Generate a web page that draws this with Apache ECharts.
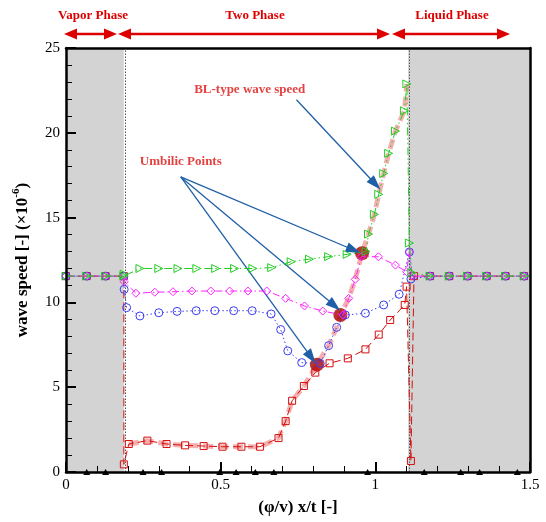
<!DOCTYPE html>
<html><head><meta charset="utf-8">
<script src="https://cdn.jsdelivr.net/npm/echarts@6/dist/echarts.min.js"></script>
<style>html,body{margin:0;padding:0;background:#fff}#c{width:546px;height:522px}</style>
</head><body><div id="c"></div>
<script>
// ---- data ----
const phaseBounds = [0.187, 1.106];
const redX = [0,0.067,0.128,0.187,0.187,0.203,0.263,0.325,0.385,0.445,0.506,0.567,0.627,0.687,0.71,0.731,0.769,0.806,0.852,0.911,0.968,1.011,1.048,1.095,1.101,1.115,1.125,1.177,1.239,1.298,1.36,1.421,1.481,1.5];
const redY = [11.55,11.55,11.55,11.55,0.45,1.65,1.85,1.65,1.57,1.53,1.49,1.49,1.49,2.0,3.0,4.2,5.07,5.86,6.41,6.7,7.23,8.1,8.96,9.85,10.93,0.65,11.55,11.55,11.55,11.55,11.55,11.55,11.55,11.55];
const blueX = [0,0.067,0.128,0.187,0.188,0.196,0.239,0.3,0.359,0.421,0.481,0.542,0.602,0.663,0.694,0.717,0.762,0.822,0.849,0.875,0.903,0.968,1.027,1.077,1.11,1.115,1.177,1.239,1.298,1.36,1.421,1.481,1.5];
const blueY = [11.55,11.55,11.55,11.55,10.77,9.69,9.2,9.39,9.47,9.51,9.51,9.51,9.51,9.32,8.4,7.14,6.45,6.4,7.45,8.53,9.26,9.36,9.85,10.48,12.97,11.38,11.55,11.55,11.55,11.55,11.55,11.55,11.55];
const magX = [0,0.067,0.128,0.187,0.188,0.226,0.287,0.346,0.407,0.468,0.529,0.588,0.649,0.71,0.771,0.83,0.895,0.914,0.935,0.955,1.01,1.065,1.101,1.11,1.12,1.177,1.239,1.298,1.36,1.421,1.481,1.5];
const magY = [11.55,11.55,11.55,11.55,11.22,10.54,10.6,10.63,10.67,10.67,10.67,10.67,10.67,10.24,9.79,9.49,9.26,10.24,11.36,12.7,12.69,12.2,11.81,12.97,11.55,11.55,11.55,11.55,11.55,11.55,11.55,11.55];
const greenX = [0,0.067,0.128,0.187,0.188,0.239,0.3,0.362,0.423,0.484,0.545,0.604,0.665,0.728,0.787,0.849,0.909,0.97,0.978,0.997,1.011,1.027,1.043,1.065,1.094,1.102,1.11,1.118,1.177,1.239,1.298,1.36,1.421,1.481,1.5];
const greenY = [11.55,11.55,11.55,11.55,11.66,12.0,12.0,12.0,12.0,12.0,12.0,12.0,12.05,12.4,12.55,12.7,12.83,13.0,14.03,15.19,16.37,17.6,18.79,20.1,21.3,22.88,13.5,11.75,11.55,11.55,11.55,11.55,11.55,11.55,11.55];
const blX = [0.203,0.263,0.325,0.385,0.445,0.506,0.567,0.627,0.687,0.71,0.731,0.769,0.811,0.849,0.875,0.887,0.914,0.935,0.957,0.978,0.997,1.011,1.027,1.043,1.065,1.094,1.102];
const blY = [1.65,1.85,1.65,1.57,1.53,1.49,1.49,1.49,2.0,3.0,4.2,5.07,6.33,7.45,8.53,9.25,10.24,11.36,12.9,14.03,15.19,16.37,17.6,18.79,20.1,21.3,22.88];
const umbX = [0.811,0.887,0.957];
const umbY = [6.33,9.25,12.9];
const zeroX = [0.067,0.128,0.249,0.309,0.497,0.55,0.612,0.672,0.975,1.158,1.276,1.337,1.459];
const zeroY = [0,0,0,0,0,0,0,0,0,0,0,0,0];
const xTicks = [0,0.5,1,1.5];
const yTicks = [0,5,10,15,20,25];
// annotations (data coordinates)
const blLabel = {text:'BL-type wave speed', at:[0.594,22.52]};
const blArrow = [[0.745,21.95],[1.0,16.98]];
const umbLabel = {text:'Umbilic Points', at:[0.371,18.3]};
const umbArrowFrom = [0.371,17.4];
const umbArrowTo = [[0.93,13.09],[0.868,9.81],[0.793,6.76]];

// ---- chart ----
const SERIF = '"Liberation Serif","Times New Roman",serif';
function zip(xs, ys){ return xs.map((x,i)=> (x===1.5 ? {value:[x,ys[i]], symbol:'none'} : [x,ys[i]])); }
const chart = echarts.init(document.getElementById('c'), null, {renderer:'canvas'});
const arrowColor = '#1f5fa6';
function lineSeries(name, xs, ys, color, dash, symbol, size, rot, z){
  return {
    name, type:'line', data: zip(xs,ys), z, clip:false, showAllSymbol:true,
    symbol, symbolSize:size, symbolRotate: rot||0,
    lineStyle:{color, width:1, type:dash},
    itemStyle:{color:'rgba(255,255,255,0)', borderColor:color, borderWidth:1},
    emphasis:{disabled:true}, animation:false
  };
}
const option = {
  animation:false,
  grid:{left:66, right:16, top:48, bottom:50},
  xAxis:[{
    type:'value', min:0, max:1.5, interval:0.5, position:'bottom', z:20,
    axisLine:{onZero:false, lineStyle:{color:'#000', width:2.5}},
    axisTick:{inside:true, length:10, lineStyle:{color:'#000', width:2}},
    minorTick:{show:true, splitNumber:5, length:6, lineStyle:{color:'#000', width:1}},
    splitLine:{show:false},
    axisLabel:{color:'#000', fontFamily:SERIF, fontSize:15, margin:6,
      formatter:(v)=> xTicks.includes(v) ? String(v) : ''},
    name:'(φ/v) x/t [-]', nameLocation:'middle', nameGap:27,
    nameTextStyle:{color:'#000', fontFamily:SERIF, fontSize:17, fontWeight:'bold'}
  },{
    type:'value', min:0, max:1.5, position:'top', z:20,
    axisLine:{onZero:false, lineStyle:{color:'#000', width:2.5}},
    axisTick:{show:false}, axisLabel:{show:false}, splitLine:{show:false}
  }],
  yAxis:[{
    type:'value', min:0, max:25, interval:5, position:'left', z:20,
    axisLine:{show:true, onZero:false, lineStyle:{color:'#000', width:2.5}},
    axisTick:{show:true, inside:true, length:10, lineStyle:{color:'#000', width:2}},
    minorTick:{show:true, splitNumber:5, length:6, lineStyle:{color:'#000', width:1}},
    splitLine:{show:false},
    axisLabel:{color:'#000', fontFamily:SERIF, fontSize:15, margin:6,
      formatter:(v)=> yTicks.includes(v) ? String(v) : ''},
    name:'{a|wave speed [-] (×10}{s|-6}{a|)}', nameLocation:'middle', nameGap:32,
    nameTextStyle:{rich:{
      a:{color:'#000', fontFamily:SERIF, fontSize:17, fontWeight:'bold'},
      s:{color:'#000', fontFamily:SERIF, fontSize:11, fontWeight:'bold', padding:[0,0,12,0]}
    }}
  },{
    type:'value', min:0, max:25, position:'right', z:20,
    axisLine:{show:true, onZero:false, lineStyle:{color:'#000', width:2.5}},
    axisTick:{show:false}, axisLabel:{show:false}, splitLine:{show:false}
  }],
  series:[
    {
      type:'line', data:[], z:1, silent:true,
      markArea:{silent:true, itemStyle:{color:'#d3d3d3'}, data:[
        [{xAxis:0},{xAxis:phaseBounds[0]}],
        [{xAxis:phaseBounds[1]},{xAxis:1.5}]
      ]},
      markLine:{silent:true, symbol:'none', label:{show:false},
        lineStyle:{color:'#555', width:1, type:[1.5,1.5]},
        data:[{xAxis:phaseBounds[0]},{xAxis:phaseBounds[1]}]}
    },
    {
      type:'line', data: zip(zeroX, zeroY), z:2, clip:false, showAllSymbol:true,
      symbol:'triangle', symbolSize:[7,6], lineStyle:{width:0},
      itemStyle:{color:'#000'}, emphasis:{disabled:true}
    },
    {
      name:'BL', type:'line', data: zip(blX, blY), z:3, symbol:'none', clip:false,
      lineStyle:{color:'rgba(236,110,110,0.55)', width:5, type:[10,5]},
      emphasis:{disabled:true}
    },
    {
      name:'umbilic', type:'scatter', data: zip(umbX, umbY), z:4,
      symbol:'circle', symbolSize:14, itemStyle:{color:'#a80000'}, emphasis:{disabled:true}
    },
    lineSeries('red', redX, redY, '#d41010', [8,4], 'rect', 7, 0, 5),
    lineSeries('blue', blueX, blueY, '#3b3bf0', [1.5,2.5], 'circle', 8, 0, 6),
    lineSeries('magenta', magX, magY, '#ff22ff', [7,3,1.5,3], 'diamond', 8, 0, 7),
    lineSeries('green', greenX, greenY, '#22cc22', [8,3,1.5,3,1.5,3], 'triangle', 8, -90, 8),
    {
      type:'scatter', z:9, symbolSize:0, silent:true,
      data:[{value:blLabel.at, name:blLabel.text},{value:umbLabel.at, name:umbLabel.text}],
      label:{show:true, position:'inside', formatter:'{b}', color:'#dd1111',
        fontFamily:SERIF, fontSize:13, fontWeight:'bold'},
      markLine:{silent:true, symbol:['none','triangle'], symbolSize:[10,15], label:{show:false},
        lineStyle:{color:arrowColor, width:1.3, type:'solid'},
        data:[
          [{coord:blArrow[0]},{coord:blArrow[1]}],
          ...umbArrowTo.map(t=>[{coord:umbArrowFrom},{coord:t}])
        ]}
    }
  ],
  graphic:[]
};
chart.setOption(option);

// header (phase arrows and titles)
const RED = '#dd0000', hy = 34;
function dblArrow(x1, x2){
  return [
    {type:'line', shape:{x1:x1+8, y1:hy, x2:x2-8, y2:hy}, style:{stroke:RED, lineWidth:2.5}},
    {type:'polygon', shape:{points:[[x1,hy],[x1+13,hy-5.5],[x1+13,hy+5.5]]}, style:{fill:RED}},
    {type:'polygon', shape:{points:[[x2,hy],[x2-13,hy-5.5],[x2-13,hy+5.5]]}, style:{fill:RED}}
  ];
}
function htext(t, x){
  return {type:'text', x, y:16, style:{text:t, fill:RED, font:'bold 13px '+SERIF, align:'center', verticalAlign:'middle', textAlign:'center', textVerticalAlign:'middle'}};
}
chart.setOption({graphic:[
  ...dblArrow(64,117), ...dblArrow(118,390), ...dblArrow(392,510),
  htext('Vapor Phase', 93), htext('Two Phase', 255), htext('Liquid Phase', 452)
]});
</script></body></html>
